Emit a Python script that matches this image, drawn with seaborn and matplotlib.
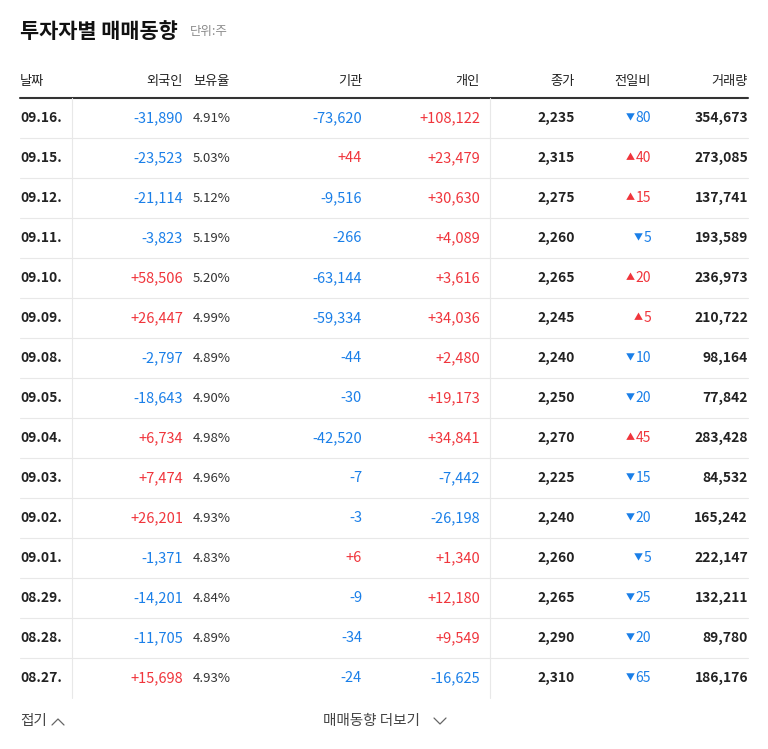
import matplotlib
matplotlib.use("Agg")
import matplotlib.pyplot as plt
import seaborn as sns

sns.set_theme(style="white")
plt.rcParams['font.family'] = ['Noto Sans CJK KR', 'DejaVu Sans']

dates = ["09.16.","09.15.","09.12.","09.11.","09.10.","09.09.","09.08.","09.05.","09.04.","09.03.","09.02.","09.01.","08.29.","08.28.","08.27."]
foreign = [-31890,-23523,-21114,-3823,58506,26447,-2797,-18643,6734,7474,26201,-1371,-14201,-11705,15698]
holding = [4.91,5.03,5.12,5.19,5.20,4.99,4.89,4.90,4.98,4.96,4.93,4.83,4.84,4.89,4.93]
inst = [-73620,44,-9516,-266,-63144,-59334,-44,-30,-42520,-7,-3,6,-9,-34,-24]
indiv = [108122,23479,30630,4089,3616,34036,2480,19173,34841,-7442,-26198,1340,12180,9549,-16625]
close = [2235,2315,2275,2260,2265,2245,2240,2250,2270,2225,2240,2260,2265,2290,2310]
change = [-80,40,15,-5,20,5,-10,-20,45,-15,-20,-5,-25,-20,-65]
volume = [354673,273085,137741,193589,236973,210722,98164,77842,283428,84532,165242,222147,132211,89780,186176]
headers = ["날짜","외국인","보유율","기관","개인","종가","전일비","거래량"]

RED = "#f0353c"; BLUE = "#1a7fe8"; DARK = "#222222"; GRAY = "#8a8a8a"; LINE = "#e8e8e8"

fig = plt.figure(figsize=(7.68, 7.49), dpi=100)
ax = fig.add_axes([0, 0, 1, 1])
ax.set_xlim(0, 768); ax.set_ylim(749, 0); ax.axis("off")

ax.text(20, 31, "투자자별 매매동향", fontsize=15, fontweight="bold", color="#111", va="center")
ax.text(190, 32, "단위:주", fontsize=9, color=GRAY, va="center")

hx = [(20,"left"),(183,"right"),(193,"left"),(362,"right"),(480,"right"),(575,"right"),(651,"right"),(748,"right")]
for (x, ha), h in zip(hx, headers):
    ax.text(x, 81, h, fontsize=9.5, color=DARK, ha=ha, va="center")
ax.plot([20, 748], [98, 98], color="#333", lw=1.5)

def sgn(v):
    return (f"+{v:,}" if v > 0 else f"{v:,}"), (RED if v > 0 else BLUE)

top, step = 98, 40
n = len(dates)
W = "medium"
for i in range(n):
    y = top + step * i + step / 2
    ax.text(20, y, dates[i], fontsize=10, fontweight="bold", color=DARK, va="center")
    s, c = sgn(foreign[i]); ax.text(183, y, s, fontsize=10.5, fontweight=W, color=c, ha="right", va="center")
    ax.text(193, y, f"{holding[i]:.2f}%", fontsize=9.5, color="#333", ha="left", va="center")
    s, c = sgn(inst[i]); ax.text(362, y, s, fontsize=10.5, fontweight=W, color=c, ha="right", va="center")
    s, c = sgn(indiv[i]); ax.text(480, y, s, fontsize=10.5, fontweight=W, color=c, ha="right", va="center")
    ax.text(575, y, f"{close[i]:,}", fontsize=10, fontweight="bold", color=DARK, ha="right", va="center")
    ch = change[i]
    c = RED if ch > 0 else BLUE
    num = str(abs(ch))
    ax.text(651, y, num, fontsize=10, color=c, ha="right", va="center")
    ax.text(651 - 7.6 * len(num) - 1, y, "▲" if ch > 0 else "▼", fontsize=6.5, color=c, ha="right", va="center")
    ax.text(748, y, f"{volume[i]:,}", fontsize=10, fontweight="bold", color=DARK, ha="right", va="center")
    if i < n - 1:
        ax.plot([20, 748], [top + step * (i + 1)] * 2, color=LINE, lw=0.8)

bottom = top + step * n
for x in [72, 490]:
    ax.plot([x, x], [top, bottom], color=LINE, lw=0.8)

ax.text(20, 721, "접기", fontsize=10.5, color="#444", va="center")
ax.plot([52, 58, 64], [725, 719, 725], color="#666", lw=0.9)
ax.text(323, 721, "매매동향 더보기", fontsize=10.5, color="#444", va="center")
ax.plot([434, 440, 446], [718, 724, 718], color="#666", lw=0.9)

fig.savefig("out.png", dpi=100, facecolor="white")
